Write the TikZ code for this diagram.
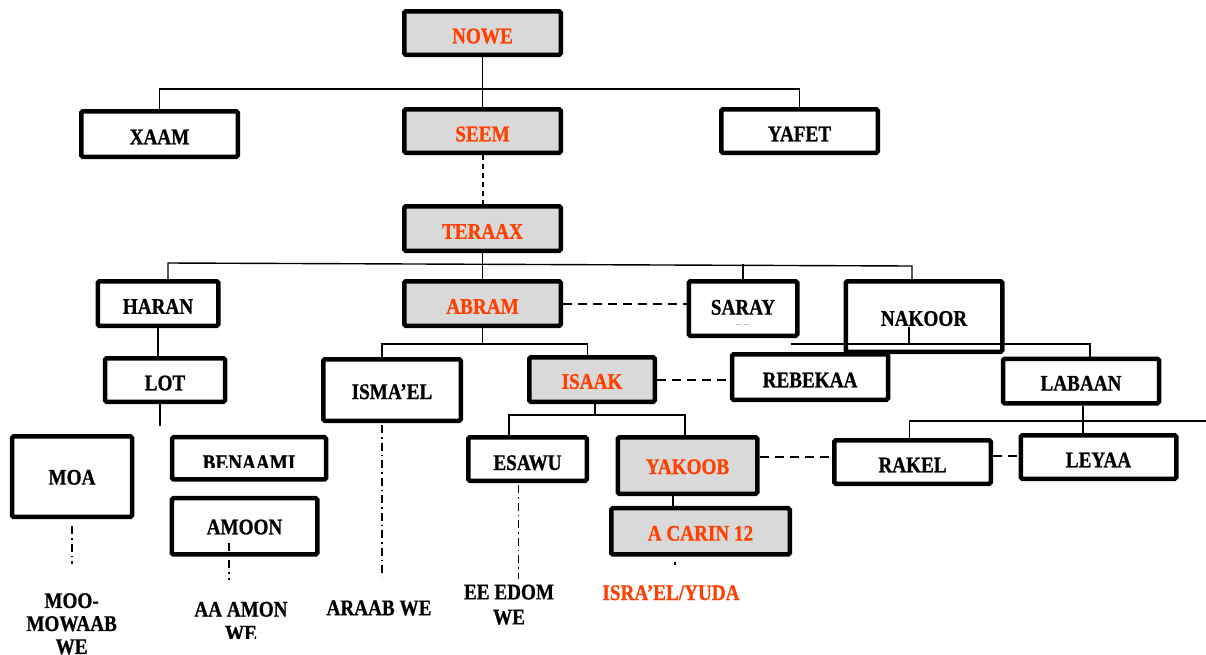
\documentclass[tikz,border=0pt]{standalone}
\usepackage{fontspec}
\newfontfamily\labfont{Liberation Serif}[FakeStretch=0.86,FakeBold=0.8]
\usetikzlibrary{calc}
\definecolor{redtxt}{RGB}{255,64,0}
\definecolor{boxgrey}{RGB}{217,217,217}
\tikzset{
  person/.style={draw=black, line width=4.5pt, rounded corners=1.5pt, inner sep=0pt,
    font=\labfont\bfseries\fontsize{22.3}{26}\selectfont, text height=20.6pt, text depth=0pt},
  mainline/.style={fill=boxgrey, text=redtxt},
  link/.style={line width=1.4pt},
  couple/.style={line width=1.9pt, dash pattern=on 9pt off 6pt},
  descent/.style={line width=1.5pt, dash pattern=on 8pt off 4pt on 1.5pt off 4pt},
  tribe/.style={font=\labfont\bfseries\fontsize{22.3}{23}\selectfont, align=center, inner sep=0pt}
}
\begin{document}
\begin{tikzpicture}[x=1pt,y=-1pt]
\fill[white] (0,0) rectangle (1206,654);
\useasboundingbox (0,0) rectangle (1206,654);

% boxes
\node[person,mainline,minimum width=156.5pt,minimum height=43.5pt] (NOWE) at (482.5,33) {NOWE};
\node[person,minimum width=156.5pt,minimum height=45.5pt] (XAAM) at (159.5,134) {XAAM};
\node[person,mainline,minimum width=156.5pt,minimum height=43.5pt] (SEEM) at (482.5,131) {SEEM};
\node[person,minimum width=156.5pt,minimum height=43.5pt] (YAFET) at (799.5,131) {YAFET};
\node[person,mainline,minimum width=156.5pt,minimum height=44.5pt] (TERAAX) at (482.5,228.5) {TERAAX};
\node[person,minimum width=120.5pt,minimum height=44.5pt] (HARAN) at (158,303.5) {HARAN};
\node[person,mainline,minimum width=156.5pt,minimum height=44.5pt] (ABRAM) at (482.5,303.5) {ABRAM};
\node[person,minimum width=108.5pt,minimum height=54.5pt,text height=12.2pt] (SARAY) at (743,308.5) {SARAY};
\node[person,minimum width=156.5pt,minimum height=70.5pt,text height=18.6pt] (NAKOOR) at (924,316.5) {NAKOOR};
\node[person,minimum width=120pt,minimum height=43.5pt] (LOT) at (165,380) {LOT};
\node[person,minimum width=137.5pt,minimum height=61.5pt,text height=18pt] (ISMA) at (392,390) {ISMA’EL};
\node[person,mainline,minimum width=125.5pt,minimum height=44.5pt,text height=18.6pt] (ISAAK) at (592,379.5) {ISAAK};
\node[person,minimum width=156pt,minimum height=45.5pt] (REBEKAA) at (810,377) {REBEKAA};
\node[person,minimum width=156pt,minimum height=44.5pt,text height=19.2pt] (LABAAN) at (1081,381) {LABAAN};
\node[person,minimum width=120pt,minimum height=80.5pt,text height=15.8pt] (MOA) at (72,476.7) {MOA};
\node[person,minimum width=154pt,minimum height=42.2pt] (BENAAMI) at (249,458.3) {};
\node[person,minimum width=145.5pt,minimum height=56.2pt,text height=16pt] (AMOON) at (244.5,526.3) {AMOON};
\node[person,minimum width=118.5pt,minimum height=43.5pt,text height=22pt] (ESAWU) at (527.5,459) {ESAWU};
\node[person,mainline,minimum width=139.5pt,minimum height=56.5pt,text height=17pt] (YAKOOB) at (687.5,465.5) {YAKOOB};
\node[person,mainline,minimum width=178.5pt,minimum height=46.2pt,text height=18.6pt] (ACARIN) at (700.5,531.3) {A CARIN 12};
\node[person,minimum width=156.5pt,minimum height=43.5pt] (RAKEL) at (912.5,462) {RAKEL};
\node[person,minimum width=155.5pt,minimum height=43.5pt] (LEYAA) at (1098.5,457) {LEYAA};

\begin{scope}
  \clip (172,437) rectangle (326,467.5);
  \node[tribe] (BENAAMIt) at (249,462.7) {BENAAMI};
\end{scope}

% small grey mark under SARAY
\draw[gray!45, line width=0.7pt, dash pattern=on 5pt off 3pt] (736,324) -- (750,324);

% bottom texts
\node[tribe, anchor=north] (MOOt) at (71.6,593) {MOO-\\MOWAAB\\WE};
\begin{scope}
  \clip (150,590) rectangle (330,638);
  \node[tribe, anchor=north, font=\labfont\bfseries\fontsize{22.3}{24}\selectfont] (AMONt) at (241,601.6) {AA AMON\\WE};
\end{scope}
\node[tribe] (ARAABt) at (379,608) {ARAAB WE};
\node[tribe, anchor=north, font=\labfont\bfseries\fontsize{22.3}{25}\selectfont] (EDOMt) at (509,584.4) {EE EDOM\\WE};
\node[tribe, text=redtxt] (ISRt) at (671,592.7) {ISRA’EL/YUDA};

% NOWE family
\coordinate (noweBar) at (0,89);
\draw[link] (NOWE.south) -- (SEEM.north);
\draw[link] (XAAM.north) -- (XAAM.north |- noweBar) -| (YAFET.north);
\draw[line width=2pt, dash pattern=on 5pt off 4pt] (SEEM.south) -- (TERAAX.north);

% TERAAX family
\draw[link] (TERAAX.south) -- (ABRAM.north);
\coordinate (tL) at (168,263);
\coordinate (tR) at (912,266);
\draw[link] ($(HARAN.north)+(10,0)$) -- (tL) -- (tR) -- ($(NAKOOR.north)+(-12,0)$);
\draw[link] (SARAY.north) -- ++(0,-15);
\draw[couple] (ABRAM.east |- 0,304) -- (SARAY.west |- 0,304);

% HARAN / LOT
\draw[link] (HARAN.south) -- (HARAN.south |- LOT.north);
\draw[link] ($(LOT.south)+(-5,0)$) -- ++(0,21.5);

% ABRAM children
\coordinate (aBar) at (0,344);
\draw[link] (ABRAM.south) -- (ABRAM.south |- aBar);
\coordinate (imDrop) at ($(ISMA.north)+(-10,0)$);
\coordinate (isDrop) at ($(ISAAK.north)+(-4.5,0)$);
\draw[link] (imDrop) -- (imDrop |- aBar) -| (isDrop);
\draw[couple] (ISAAK.east |- 0,380) -- (REBEKAA.west |- 0,380);

% ISAAK children
\coordinate (iBar) at (0,415);
\coordinate (isS) at ($(ISAAK.south)+(3,0)$);
\draw[link] (isS) -- (isS |- iBar);
\coordinate (esD) at ($(ESAWU.north)+(-18.5,0)$);
\coordinate (yaD) at ($(YAKOOB.north)+(-2.5,0)$);
\draw[link] (esD) -- (esD |- iBar) -| (yaD);
\coordinate (ykS) at ($(YAKOOB.south)+(-14.5,0)$);
\draw[link] (ykS) -- (ykS |- ACARIN.north);

% NAKOOR children
\coordinate (nkTop) at ($(NAKOOR.center)+(-15,10.2)$);
\draw[link] (nkTop) -- (nkTop |- aBar);
\coordinate (nkL) at (791,344);
\coordinate (lbD) at ($(LABAAN.north)+(9,0)$);
\draw[link] (nkL) -| (lbD);

% LABAAN children
\coordinate (lbS) at ($(LABAAN.south)+(2,0)$);
\draw[link] (lbS) -- (lbS |- LEYAA.north);
\coordinate (lBarR) at (1206,421);
\coordinate (rkD) at ($(RAKEL.north)+(-3,0)$);
\draw[link] (rkD) |- (lBarR);
\draw[couple] (YAKOOB.east |- 0,457.3) -- (RAKEL.west |- 0,457.3);
\draw[couple] (RAKEL.east |- 0,456) -- (LEYAA.west |- 0,456);

% descent lines
\draw[descent] ($(MOA.south)+(0,7)$) -- ++(0,37.7);
\draw[descent] ($(AMOON.center)+(-15.5,16.4)$) -- ++(0,37.3);
\draw[descent] ($(ISMA.south)+(-10,2)$) -- ++(0,152);
\draw[descent] ($(ESAWU.south)+(-9,2)$) -- ++(0,94);
\draw[descent] ($(ACARIN.south)+(-25.5,5)$) -- ++(0,3);
\end{tikzpicture}
\end{document}
